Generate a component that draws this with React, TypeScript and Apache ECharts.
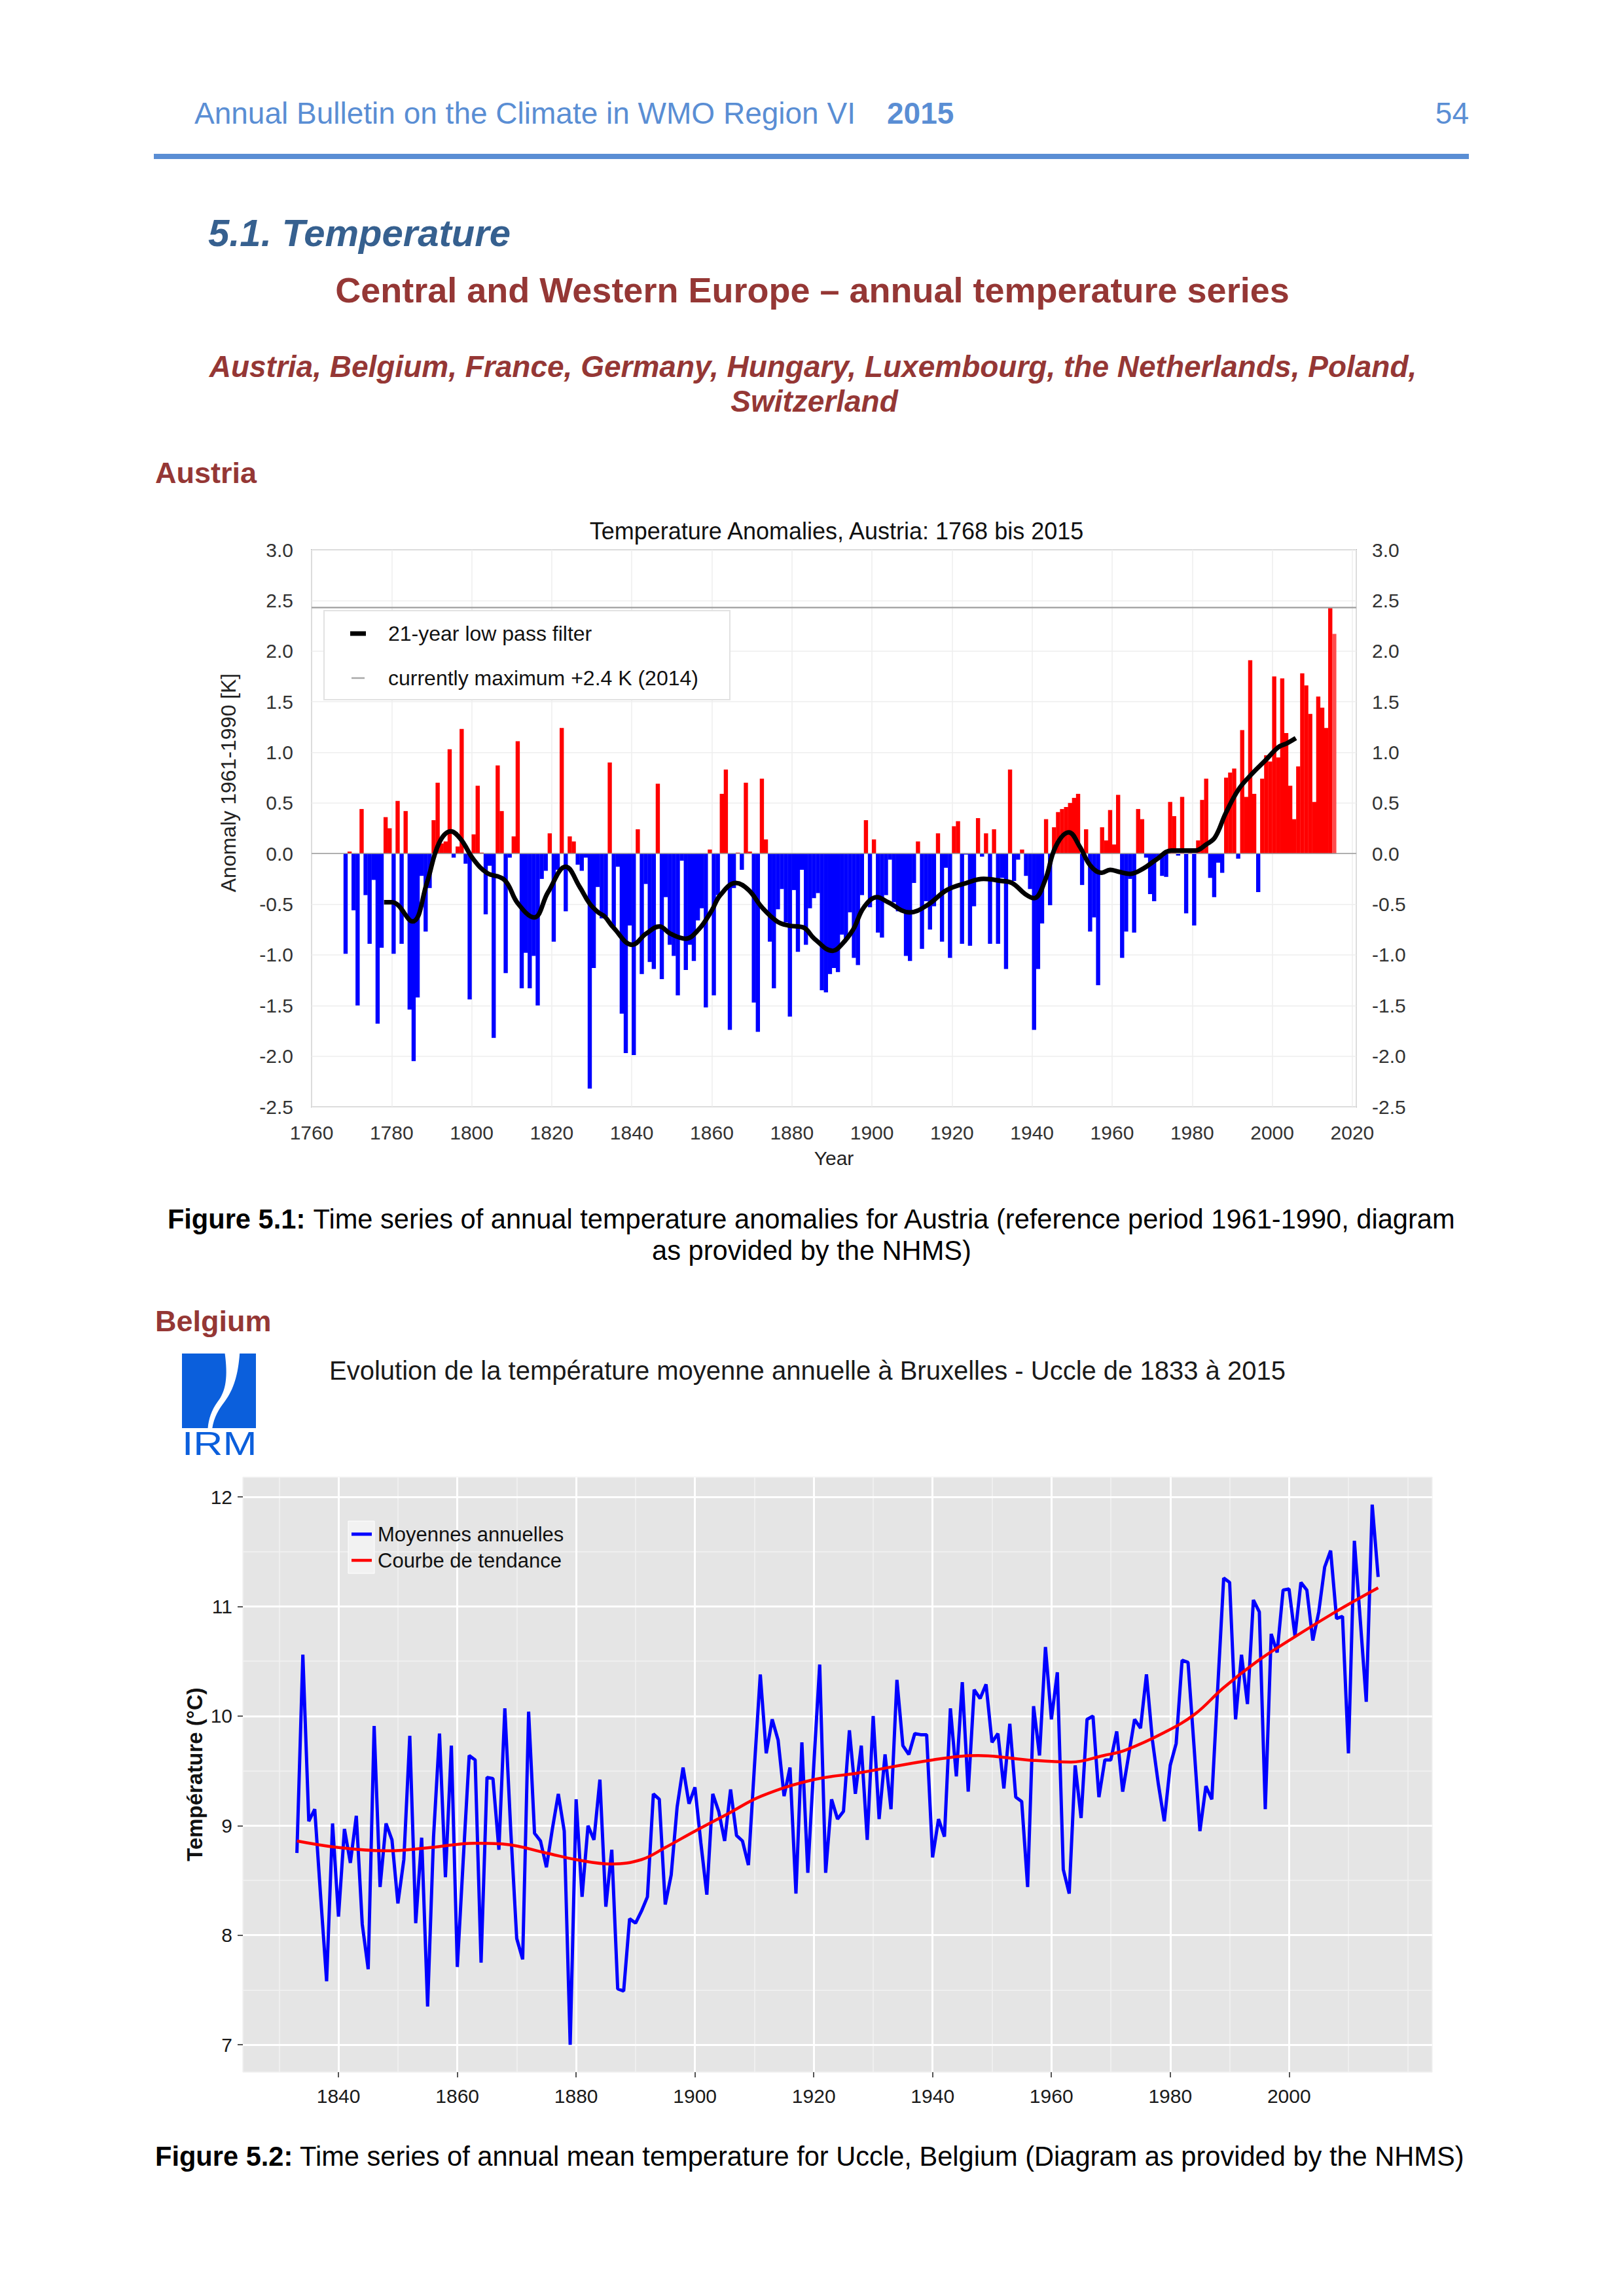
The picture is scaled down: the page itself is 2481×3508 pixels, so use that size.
import React, { useEffect, useRef } from "react";
import * as echarts from "echarts";

const FONT = "Liberation Sans";

// ---------------- Austria: annual anomalies 1768-2015 (K, ref. 1961-1990) ----------------
const austriaFirstYear = 1768;
const austriaAnomalies = [
  -0.99, 0.02, -0.56, -1.5, 0.44, -0.41, -0.89, -0.26, -1.68, -0.93,
  0.36, 0.25, -0.99, 0.52, -0.89, 0.42, -1.54, -2.05, -1.42, -0.22,
  -0.77, -0.34, 0.33, 0.7, 0.1, 0.12, 1.03, -0.04, 0.07, 1.23,
  -0.1, -1.44, 0.19, 0.67, 0.01, -0.6, -0.12, -1.82, 0.87, 0.42,
  -1.18, -0.04, 0.17, 1.11, -1.33, -0.98, -1.33, -1.01, -1.5, -0.25,
  -0.17, 0.2, -0.87, -0.16, 1.24, -0.57, 0.17, 0.12, -0.11, -0.17,
  -0.04, -2.32, -1.13, -0.33, -0.64, -0.62, 0.9, -0.72, -0.13, -1.58,
  -1.97, -0.71, -1.99, 0.24, -1.19, -0.3, -1.07, -1.14, 0.69, -1.24,
  -0.43, -0.9, -1.01, -1.4, -0.07, -1.15, -0.9, -1.06, -0.66, -0.54,
  -1.52, 0.04, -1.4, -0.41, 0.59, 0.83, -1.74, -0.34, 0.01, -0.16,
  0.7, 0.02, -1.47, -1.76, 0.74, 0.14, -0.87, -1.33, -0.55, -0.35,
  -0.68, -1.61, -0.36, -0.97, -0.16, -0.9, -0.54, -0.44, -0.39, -1.35,
  -1.37, -1.19, -1.13, -1.17, -0.8, -0.85, -0.58, -1.03, -1.1, -0.41,
  0.33, -0.53, 0.14, -0.78, -0.83, -0.41, -0.06, -0.48, -0.57, -0.58,
  -1.01, -1.06, -0.29, 0.12, -0.94, -0.47, -0.75, -0.52, 0.2, -0.87,
  -0.14, -1.03, 0.27, 0.32, -0.89, -0.01, -0.91, -0.52, 0.35, -0.03,
  0.2, -0.89, 0.24, -0.89, -0.24, -1.14, 0.83, -0.27, -0.06, 0.04,
  -0.22, -0.35, -1.74, -1.14, -0.69, 0.34, -0.51, 0.26, 0.41, 0.44,
  0.46, 0.5, 0.55, 0.59, -0.31, 0.24, -0.77, -0.63, -1.3, 0.26,
  0.13, 0.43, 0.09, 0.58, -1.03, -0.77, -0.25, -0.78, 0.44, 0.34,
  -0.04, -0.4, -0.47, -0.04, -0.22, -0.23, 0.51, 0.37, -0.02, 0.56,
  -0.59, 0.02, -0.71, 0.13, 0.53, 0.74, -0.24, -0.43, -0.09, -0.19,
  0.75, 0.8, 0.84, -0.05, 1.22, 0.56, 1.91, 0.59, -0.38, 0.74,
  0.97, 0.91, 1.75, 0.95, 1.73, 1.19, 0.67, 0.34, 0.86, 1.78,
  1.66, 1.38, 0.51, 1.55, 1.44, 1.24, 2.43, 2.17,
];

// 21-year low pass filter: [axis year, value]
const austriaFilter: [number, number][] = [
  [1778.1, -0.48], [1780.1, -0.48], [1785.2, -0.67], [1788.8, -0.29], [1791.8, 0.1],
  [1794.8, 0.22], [1797.3, 0.14], [1800.5, -0.06], [1803.8, -0.19], [1808.2, -0.26],
  [1811.5, -0.49], [1815.6, -0.63], [1819.1, -0.38], [1823.5, -0.13], [1827.0, -0.33],
  [1829.4, -0.49], [1831.6, -0.58], [1833.2, -0.62], [1835.4, -0.73], [1840.1, -0.9],
  [1843.6, -0.79], [1846.9, -0.72], [1849.6, -0.79], [1853.4, -0.84], [1856.7, -0.75],
  [1860.0, -0.56], [1862.1, -0.41], [1866.0, -0.29], [1869.2, -0.36], [1872.5, -0.53],
  [1876.3, -0.67], [1879.1, -0.71], [1882.9, -0.73], [1885.6, -0.84], [1890.2, -0.96],
  [1892.4, -0.9], [1895.3, -0.75], [1898.0, -0.53], [1901.3, -0.43], [1904.0, -0.48],
  [1909.4, -0.58], [1913.8, -0.51], [1918.7, -0.36], [1923.6, -0.29], [1927.9, -0.25],
  [1932.3, -0.27], [1935.0, -0.29], [1938.3, -0.4], [1940.5, -0.44], [1943.2, -0.27],
  [1945.9, 0.07], [1949.2, 0.21], [1951.9, 0.07], [1954.6, -0.12], [1957.4, -0.19],
  [1959.5, -0.16], [1961.7, -0.18], [1964.5, -0.2], [1967.7, -0.15], [1971.0, -0.06],
  [1974.8, 0.03], [1978.1, 0.03], [1980.8, 0.03], [1983.5, 0.09], [1985.7, 0.16],
  [1988.4, 0.4], [1991.7, 0.64], [1995.0, 0.79], [1998.3, 0.92], [2001.5, 1.05],
  [2003.7, 1.09], [2005.9, 1.14],
];
const austriaXRange = [1760, 2021];
const austriaXStep = 20;
const austriaYRange = [-2.5, 3.0];
const austriaYStep = 0.5;

// ---------------- Belgium: Uccle annual mean temperature 1833-2015 (°C) ----------------
const belgiumFirstYear = 1833;
const belgiumTemps = [
  8.75, 10.56, 9.04, 9.15, 8.35, 7.58, 9.02, 8.17, 8.97, 8.66,
  9.09, 8.1, 7.69, 9.91, 8.44, 9.02, 8.87, 8.29, 8.69, 9.82,
  8.11, 8.89, 7.35, 8.9, 9.84, 8.53, 9.73, 7.71, 8.69, 9.64,
  9.6, 7.75, 9.44, 9.43, 8.78, 10.07, 8.95, 7.97, 7.78, 10.04,
  8.93, 8.86, 8.62, 8.97, 9.29, 8.95, 7.0, 9.24, 8.35, 9.0,
  8.87, 9.42, 8.26, 8.78, 7.51, 7.49, 8.15, 8.11, 8.22, 8.35,
  9.29, 9.24, 8.28, 8.55, 9.17, 9.53, 9.2, 9.35, 8.84, 8.37,
  9.29, 9.13, 8.86, 9.33, 8.91, 8.86, 8.64, 9.53, 10.38, 9.66,
  9.97, 9.78, 9.27, 9.53, 8.38, 9.76, 8.57, 9.55, 10.47, 8.57,
  9.24, 9.06, 9.13, 9.87, 9.29, 9.73, 8.87, 10.0, 9.06, 9.65,
  9.15, 10.33, 9.73, 9.65, 9.84, 9.83, 9.83, 8.71, 9.06, 8.9,
  10.07, 9.45, 10.31, 9.31, 10.24, 10.16, 10.29, 9.76, 9.84, 9.34,
  9.93, 9.26, 9.22, 8.44, 10.09, 9.64, 10.63, 9.97, 10.4, 8.6,
  8.38, 9.55, 9.07, 9.97, 10.0, 9.26, 9.6, 9.6, 9.86, 9.31,
  9.64, 9.97, 9.89, 10.38, 9.78, 9.38, 9.04, 9.55, 9.75, 10.51,
  10.49, 9.73, 8.95, 9.36, 9.24, 10.26, 11.26, 11.22, 9.97, 10.56,
  10.11, 11.06, 10.95, 9.15, 10.75, 10.58, 11.15, 11.16, 10.73, 11.22,
  11.15, 10.69, 10.95, 11.36, 11.51, 10.89, 10.91, 9.66, 11.6, 10.87,
  10.13, 11.93, 11.27,
];
// trend curve ("Courbe de tendance"): [year, °C]
const belgiumTrend: [number, number][] = [
  [1833, 8.86], [1840, 8.8], [1848, 8.77], [1855.5, 8.8], [1863, 8.84], [1868, 8.83],
  [1875, 8.75], [1880, 8.69], [1886, 8.65], [1891, 8.69], [1895, 8.8], [1900, 8.95],
  [1905.6, 9.11], [1911.2, 9.27], [1920, 9.42], [1927.4, 9.48], [1940, 9.6], [1947.7, 9.64],
  [1955.9, 9.6], [1963.3, 9.58], [1968.8, 9.64], [1972.5, 9.69], [1979, 9.85], [1984.2, 10.02],
  [1989, 10.26], [1994.9, 10.51], [2000, 10.69], [2007.8, 10.95], [2015, 11.17],
];
const belgiumXRange = [1823.9, 2024.1];
const belgiumYRange = [6.75, 12.18];
const belgiumXTicks = [1840, 1860, 1880, 1900, 1920, 1940, 1960, 1980, 2000];
const belgiumYTicks = [7, 8, 9, 10, 11, 12];

// ---------------- IRM logo outline ----------------
const IRM_LEFT = "M0,0 L58,0 C62,30 60,50 48,65 C40,76 36,88 35,100 L0,100 Z";
const IRM_RIGHT = "M78,0 L100,0 L100,100 L41,100 C43,86 50,74 58,64 C70,48 76,28 78,0 Z";
echarts.graphic.registerShape("irmLeft", echarts.graphic.extendPath(IRM_LEFT, {}));
echarts.graphic.registerShape("irmRight", echarts.graphic.extendPath(IRM_RIGHT, {}));

function txt(x: number, y: number, text: string, o: any = {}) {
  const style: any = {
    text,
    fontFamily: FONT,
    fontSize: o.size || 30,
    fontWeight: o.weight || "normal",
    fontStyle: o.italic ? "italic" : "normal",
    fill: o.color || "#000",
    align: o.align || "left",
    textAlign: o.align || "left",
    verticalAlign: "middle",
    textVerticalAlign: "middle",
  };
  if (o.rich) style.rich = o.rich;
  const el: any = { type: "text", x, y, z: o.z || 10, style };
  if (o.rotation) el.rotation = o.rotation;
  if (o.scaleX) el.scaleX = o.scaleX;
  return el;
}

function buildOption() {
  const lastIdx = austriaAnomalies.length - 1;
  const austriaLast = austriaFirstYear + lastIdx;
  const bars = austriaAnomalies.map((v, i) => ({
    value: [austriaFirstYear + i + 0.5, v],
    itemStyle: { color: i === lastIdx ? "#ff4d4d" : v >= 0 ? "#ff0000" : "#0000ff" },
  }));
  const maxVal = Math.max(...austriaAnomalies);
  const maxYear = austriaFirstYear + austriaAnomalies.indexOf(maxVal);
  const maxLine = [
    [austriaXRange[0], maxVal],
    [austriaXRange[1], maxVal],
  ];
  const belgiumLast = belgiumFirstYear + belgiumTemps.length - 1;
  const belgiumLine = belgiumTemps.map((t, i) => [belgiumFirstYear + i, t]);

  const axisFont = { fontFamily: FONT, fontSize: 30, color: "#333" };
  const redC = "#953735";
  const hdrBlue = "#5a8ed4";
  const capSize = 41.6;

  const graphic: any[] = [
    // page header
    txt(297, 173, "Annual Bulletin on the Climate in WMO Region VI", { size: 46, color: hdrBlue }),
    txt(1355, 173, "2015", { size: 46, color: hdrBlue, weight: "bold" }),
    txt(2244, 173, "54", { size: 46, color: hdrBlue, align: "right" }),
    { type: "rect", shape: { x: 235, y: 235, width: 2009, height: 8 }, style: { fill: hdrBlue } },
    txt(318, 355, "5.1. Temperature", { size: 58, color: "#36608f", weight: "bold", italic: true }),
    txt(1241, 443, "Central and Western Europe \u2013 annual temperature series", {
      size: 54, color: redC, weight: "bold", align: "center",
    }),
    txt(1242, 560, "Austria, Belgium, France, Germany, Hungary, Luxembourg, the Netherlands, Poland,", {
      size: 46, color: redC, weight: "bold", italic: true, align: "center",
    }),
    txt(1244, 613, "Switzerland", { size: 46, color: redC, weight: "bold", italic: true, align: "center" }),
    txt(237, 722, "Austria", { size: 45, color: redC, weight: "bold" }),

    // Austria chart texts
    txt(1278, 811, `Temperature Anomalies, Austria: ${austriaFirstYear} bis ${austriaLast}`, {
      size: 36, color: "#111", align: "center",
    }),
    txt(349, 1196, "Anomaly 1961-1990 [K]", { size: 32, color: "#222", align: "center", rotation: Math.PI / 2 }),
    // Austria legend
    {
      type: "rect", z: 20,
      shape: { x: 495, y: 933, width: 620, height: 136 },
      style: { fill: "#ffffff", stroke: "#e2e2e2", lineWidth: 2 },
    },
    { type: "line", z: 21, shape: { x1: 535, y1: 968, x2: 559, y2: 968 }, style: { stroke: "#000", lineWidth: 7 } },
    txt(593, 968, "21-year low pass filter", { size: 32, color: "#111", z: 21 }),
    { type: "line", z: 21, shape: { x1: 537, y1: 1036, x2: 557, y2: 1036 }, style: { stroke: "#a8a8a8", lineWidth: 2.5 } },
    txt(593, 1036, `currently maximum +${maxVal.toFixed(1)} K (${maxYear})`, { size: 32, color: "#111", z: 21 }),

    // caption 5.1
    txt(1240, 1862, "{b|Figure 5.1:} Time series of annual temperature anomalies for Austria (reference period 1961-1990, diagram", {
      size: capSize, align: "center",
      rich: { b: { fontFamily: FONT, fontSize: capSize, fontWeight: "bold", fill: "#000" } },
    }),
    txt(1240, 1910, "as provided by the NHMS)", { size: capSize, align: "center" }),

    // Belgium header
    txt(237, 2018, "Belgium", { size: 45, color: redC, weight: "bold" }),
    { type: "irmLeft", x: 278, y: 2068, scaleX: 1.13, scaleY: 1.14, style: { fill: "#0b5fdc" } },
    { type: "irmRight", x: 278, y: 2068, scaleX: 1.13, scaleY: 1.14, style: { fill: "#0b5fdc" } },
    txt(278, 2206, "IRM", { size: 50, color: "#0b5fdc", scaleX: 1.25 }),
    txt(503, 2094, `Evolution de la temp\u00e9rature moyenne annuelle \u00e0 Bruxelles - Uccle de ${belgiumFirstYear} \u00e0 ${belgiumLast}`, {
      size: 40, color: "#1a1a1a",
    }),
    txt(297, 2711, "Temp\u00e9rature (\u00b0C)", { size: 33, weight: "bold", color: "#111", align: "center", rotation: Math.PI / 2 }),
    // Belgium legend
    { type: "rect", z: 20, shape: { x: 532, y: 2324, width: 40, height: 80 }, style: { fill: "#f2f2f2", stroke: "#ffffff", lineWidth: 1 } },
    { type: "line", z: 21, shape: { x1: 537, y1: 2344, x2: 568, y2: 2344 }, style: { stroke: "#0000ff", lineWidth: 5 } },
    { type: "line", z: 21, shape: { x1: 537, y1: 2384, x2: 568, y2: 2384 }, style: { stroke: "#ff0000", lineWidth: 4.5 } },
    txt(577, 2344, "Moyennes annuelles", { size: 31, color: "#111", z: 21 }),
    txt(577, 2384, "Courbe de tendance", { size: 31, color: "#111", z: 21 }),

    // caption 5.2
    txt(237, 3294, "{b|Figure 5.2:} Time series of annual mean temperature for Uccle, Belgium (Diagram as provided by the NHMS)", {
      size: capSize,
      rich: { b: { fontFamily: FONT, fontSize: capSize, fontWeight: "bold", fill: "#000" } },
    }),
  ];

  const majorX = (v: number) => (belgiumXTicks.indexOf(v) >= 0 ? String(v) : "");
  const majorY = (v: number) => (belgiumYTicks.indexOf(v) >= 0 ? String(v) : "");

  return {
    animation: false,
    backgroundColor: "#ffffff",
    textStyle: { fontFamily: FONT },
    grid: [
      {
        left: 476, top: 840, width: 1596, height: 851,
        show: true, borderColor: "#a6a6a6", borderWidth: 2, backgroundColor: "rgba(0,0,0,0)", z: 0,
      },
      {
        left: 371, top: 2257, width: 1817, height: 909,
        show: true, borderWidth: 0, backgroundColor: "#e5e5e5", z: 0,
      },
    ],
    xAxis: [
      {
        gridIndex: 0, type: "value",
        min: austriaXRange[0], max: austriaXRange[1], interval: austriaXStep,
        axisLine: { show: false }, axisTick: { show: false },
        splitLine: { show: true, lineStyle: { color: "#eeeeee", width: 1.5 } },
        axisLabel: { ...axisFont, margin: 24, formatter: (v: number) => (v % austriaXStep === 0 ? String(v) : "") },
        name: "Year", nameLocation: "middle", nameGap: 63,
        nameTextStyle: { fontFamily: FONT, fontSize: 30, color: "#222" },
      },
      {
        gridIndex: 1, type: "value", z: 2,
        min: belgiumXRange[0], max: belgiumXRange[1], splitNumber: 10,
        axisLine: { show: false },
        axisTick: { show: true, length: 8, customValues: belgiumXTicks, lineStyle: { color: "#555", width: 2 } },
        splitLine: { show: false },
        axisLabel: { fontFamily: FONT, fontSize: 30, color: "#1a1a1a", margin: 21, formatter: majorX },
      },
      {
        gridIndex: 1, type: "value", z: 1,
        min: belgiumXRange[0], max: belgiumXRange[1], splitNumber: 20,
        axisLine: { show: false }, axisTick: { show: false }, axisLabel: { show: false },
        splitLine: { show: true, lineStyle: { color: "#f2f2f2", width: 1.5 } },
      },
    ],
    yAxis: [
      {
        gridIndex: 0, type: "value", position: "left",
        min: austriaYRange[0], max: austriaYRange[1], interval: austriaYStep,
        axisLine: { show: false }, axisTick: { show: false },
        splitLine: { show: true, lineStyle: { color: "#eeeeee", width: 1.5 } },
        axisLabel: { ...axisFont, margin: 28, formatter: (v: number) => v.toFixed(1) },
      },
      {
        gridIndex: 0, type: "value", position: "right",
        min: austriaYRange[0], max: austriaYRange[1], interval: austriaYStep,
        axisLine: { show: false }, axisTick: { show: false }, splitLine: { show: false },
        axisLabel: { ...axisFont, margin: 24, formatter: (v: number) => v.toFixed(1) },
      },
      {
        gridIndex: 1, type: "value", z: 2,
        min: belgiumYRange[0], max: belgiumYRange[1], splitNumber: 5,
        axisLine: { show: false },
        axisTick: { show: true, length: 8, customValues: belgiumYTicks, lineStyle: { color: "#555", width: 2 } },
        splitLine: { show: true, lineStyle: { color: "#ffffff", width: 3 } },
        axisLabel: { fontFamily: FONT, fontSize: 30, color: "#1a1a1a", margin: 16, formatter: majorY },
      },
      {
        gridIndex: 1, type: "value", z: 1,
        min: belgiumYRange[0], max: belgiumYRange[1], splitNumber: 11,
        axisLine: { show: false }, axisTick: { show: false }, axisLabel: { show: false },
        splitLine: { show: true, lineStyle: { color: "#f2f2f2", width: 1.5 } },
      },
    ],
    series: [
      {
        name: "Anomaly", type: "bar", xAxisIndex: 0, yAxisIndex: 0, z: 3,
        barWidth: 6.4, data: bars,
        markLine: {
          silent: true, symbol: "none", label: { show: false },
          lineStyle: { color: "#999999", width: 1.5, type: "solid" },
          data: [{ yAxis: 0 }],
        },
      },
      {
        name: "currently maximum", type: "line", xAxisIndex: 0, yAxisIndex: 0, z: 4,
        data: maxLine, symbol: "none", lineStyle: { color: "#a8a8a8", width: 2.5 },
      },
      {
        name: "21-year low pass filter", type: "line", xAxisIndex: 0, yAxisIndex: 0, z: 5,
        data: austriaFilter, symbol: "none", smooth: 0.4,
        lineStyle: { color: "#000000", width: 7 },
      },
      {
        // major vertical grid lines of the Belgian panel (breaks 1840-2000)
        name: "grid", type: "line", xAxisIndex: 1, yAxisIndex: 2, z: 2, silent: true,
        data: [[belgiumXTicks[0], belgiumYTicks[0]]], symbol: "none", showSymbol: false,
        lineStyle: { opacity: 0 },
        markLine: {
          silent: true, symbol: "none", label: { show: false },
          lineStyle: { color: "#ffffff", width: 3, type: "solid" },
          data: belgiumXTicks.map((x) => ({ xAxis: x })),
        },
      },
      {
        name: "Moyennes annuelles", type: "line", xAxisIndex: 1, yAxisIndex: 2, z: 5,
        data: belgiumLine, symbol: "none",
        lineStyle: { color: "#0000ff", width: 5 },
      },
      {
        name: "Courbe de tendance", type: "line", xAxisIndex: 1, yAxisIndex: 2, z: 6,
        data: belgiumTrend, symbol: "none", smooth: 0.4,
        lineStyle: { color: "#ff0000", width: 4.5 },
      },
    ],
    graphic,
  };
}

export default function App() {
  const ref = useRef<HTMLDivElement>(null);
  useEffect(() => {
    document.body.style.margin = "0";
    const chart = echarts.init(ref.current as HTMLDivElement, null, { renderer: "svg" });
    chart.setOption(buildOption() as any);
    return () => chart.dispose();
  }, []);
  return <div ref={ref} style={{ width: 2481, height: 3508, background: "#fff" }} />;
}
